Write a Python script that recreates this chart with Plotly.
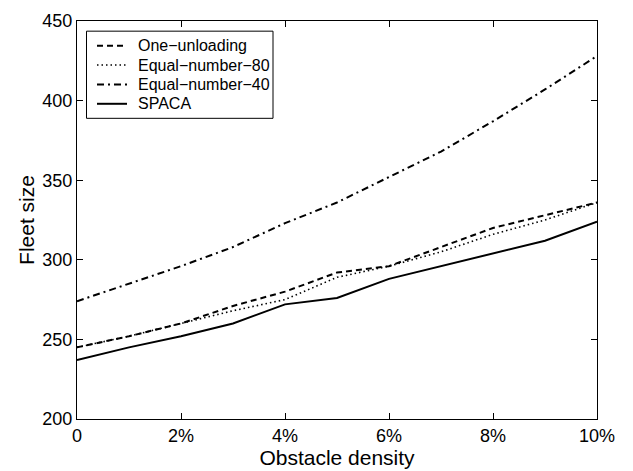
import plotly.graph_objects as go

# Obstacle density (%) on the x axis
density = [0, 1, 2, 3, 4, 5, 6, 7, 8, 9, 10]

one_unloading = [245, 252, 260, 271, 280, 292, 296, 308, 320, 328, 336]
equal_number_80 = [245, 252, 260, 268, 275, 289, 296, 305, 316, 325, 336]
equal_number_40 = [274, 285, 296, 308, 323, 336, 352, 368, 387, 407, 428]
spaca = [237, 245, 252, 260, 272, 276, 288, 296, 304, 312, 324]

x_tick_vals = [0, 2, 4, 6, 8, 10]
x_tick_text = ["0", "2%", "4%", "6%", "8%", "10%"]
y_tick_vals = [200, 250, 300, 350, 400, 450]

series = [
    ("One\u2212unloading", one_unloading, "6px,4px", 2),
    ("Equal\u2212number\u221280", equal_number_80, "1.5px,3px", 1.6),
    ("Equal\u2212number\u221240", equal_number_40, "7px,4px,2px,4px", 2),
    ("SPACA", spaca, "solid", 2),
]

W, H = 633, 471
L, R, T, B = 77, 36, 11, 49
plot_w = W - L - R
plot_h = H - T - B


def px(xp):
    return (xp - L) / plot_w


def py(yp):
    return (H - B - yp) / plot_h


fig = go.Figure()
for name, vals, dash, width in series:
    fig.add_trace(go.Scatter(
        x=density, y=vals, mode="lines", name=name,
        line=dict(color="black", width=width, dash=dash),
        showlegend=False,
    ))

font_family = "Liberation Sans, Arial, Helvetica, sans-serif"

# Boxed legend in the upper-left corner, MATLAB style
shapes = [dict(
    type="rect", xref="paper", yref="paper",
    x0=px(86.5), x1=px(273), y0=py(111.5), y1=py(21.5),
    line=dict(color="black", width=1), fillcolor="white", layer="above",
)]
annotations = []
row_y0, row_step = 36.5, 20
for i, (name, vals, dash, width) in enumerate(series):
    yy = py(row_y0 + i * row_step)
    shapes.append(dict(
        type="line", xref="paper", yref="paper",
        x0=px(97), x1=px(127), y0=yy, y1=yy,
        line=dict(color="black", width=width, dash=dash), layer="above",
    ))
    annotations.append(dict(
        xref="paper", yref="paper", x=px(136), y=yy,
        xanchor="left", yanchor="middle", showarrow=False,
        text=name, font=dict(family=font_family, size=16, color="black"),
    ))

axis_common = dict(
    showline=True, linecolor="black", linewidth=1, mirror="ticks",
    ticks="inside", ticklen=6, tickcolor="black", tickwidth=1,
    showgrid=False, zeroline=False,
    tickfont=dict(family=font_family, size=18, color="black"),
)

fig.update_layout(
    width=W, height=H,
    margin=dict(l=L, r=R, t=T, b=B),
    paper_bgcolor="white", plot_bgcolor="white",
    font=dict(family=font_family, color="black"),
    xaxis=dict(
        range=[0, 10], tickvals=x_tick_vals, ticktext=x_tick_text,
        title=dict(text="Obstacle density", font=dict(size=21), standoff=0),
        **axis_common,
    ),
    yaxis=dict(
        range=[200, 450], tickvals=y_tick_vals,
        title=dict(text="Fleet size", font=dict(size=21), standoff=2),
        **axis_common,
    ),
    shapes=shapes,
    annotations=annotations,
    showlegend=False,
)

fig.write_html("out.html")
